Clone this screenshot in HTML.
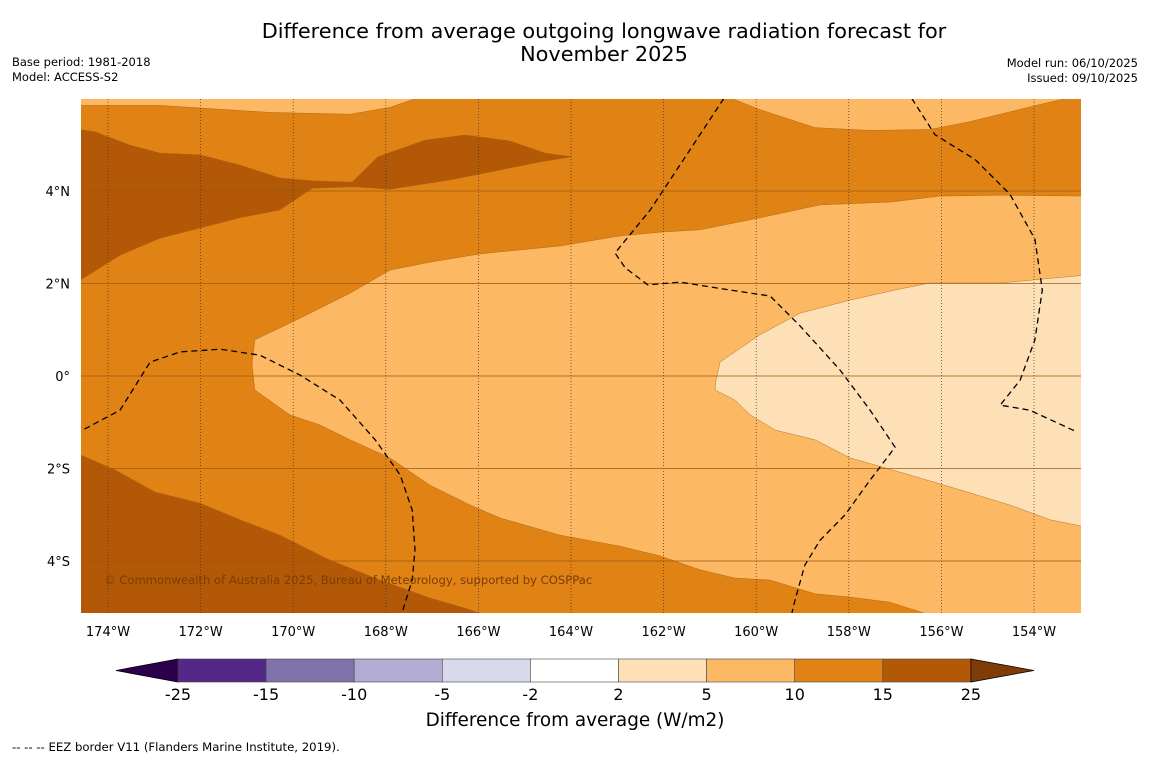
<!DOCTYPE html>
<html><head><meta charset="utf-8"><style>
body{margin:0;background:#fff;width:1150px;height:758px;overflow:hidden;font-family:"DejaVu Sans","Liberation Sans",sans-serif}
svg text{font-family:"DejaVu Sans","Liberation Sans",sans-serif}
</style></head><body>
<svg id="chart" width="1150" height="758" xmlns="http://www.w3.org/2000/svg">
<text x="604" y="38" font-size="20.8" text-anchor="middle">Difference from average outgoing longwave radiation forecast for</text>
<text x="604" y="61" font-size="20.8" text-anchor="middle">November 2025</text>
<text x="12" y="66" font-size="11.5">Base period: 1981-2018</text>
<text x="12" y="81" font-size="11.5">Model: ACCESS-S2</text>
<text x="1138" y="67" font-size="11.5" text-anchor="end">Model run: 06/10/2025</text>
<text x="1138" y="82" font-size="11.5" text-anchor="end">Issued: 09/10/2025</text>
<defs><clipPath id="mapclip"><rect x="81" y="99" width="1000" height="514"/></clipPath></defs>
<g id="map" clip-path="url(#mapclip)"></g>
<g id="axes"></g>
<g id="cbar"></g>
<text x="575" y="726" font-size="18.4" text-anchor="middle">Difference from average (W/m2)</text>
<text x="12" y="751" font-size="11.7">--  --  -- EEZ border V11 (Flanders Marine Institute, 2019).</text>
</svg>
<script>
const lonTicks=[-174,-172,-170,-168,-166,-164,-162,-160,-158,-156,-154];
const latTicks=[4,2,0,-2,-4];
const cbarLevels=[-25,-15,-10,-5,-2,2,5,10,15,25];
const cbarColors=["#542788","#8073ac","#b2abd2","#d8daeb","#ffffff","#fee0b6","#fdb863","#e08214","#b35806"];
const darkTop=[[-174.58,5.32],[-174.28,5.28],[-173.52,4.99],[-172.88,4.82],[-172.01,4.78],[-171.15,4.56],[-170.29,4.28],[-169.59,4.22],[-168.73,4.19],[-168.17,4.74],[-167.15,5.10],[-166.29,5.21],[-165.32,5.08],[-164.56,4.82],[-163.98,4.74],[-164.67,4.63],[-165.75,4.41],[-166.61,4.24],[-167.91,4.04],[-168.67,4.09],[-169.59,4.06],[-170.29,3.59],[-171.15,3.42],[-172.01,3.20],[-172.88,2.98],[-173.74,2.61],[-174.7,2.01]];
const darkBottom=[[-174.7,-1.66],[-173.85,-2.03],[-172.98,-2.51],[-172.01,-2.75],[-171.15,-3.11],[-170.29,-3.44],[-169.21,-3.98],[-168.13,-4.41],[-167.05,-4.80],[-166.29,-5.02],[-165.75,-5.2],[-174.7,-5.2]];
const lightTopLeft=[[-174.7,6.1],[-167.05,6.1],[-167.91,5.81],[-168.77,5.66],[-170.5,5.70],[-172.88,5.85],[-174.7,5.85]];
const lightTopRight=[[-160.78,6.1],[-159.92,5.76],[-158.73,5.37],[-157.54,5.31],[-156.25,5.33],[-155.38,5.50],[-153.87,5.87],[-152.9,6.1]];
const lightMain=[[-170.83,0.78],[-169.85,1.25],[-168.77,1.79],[-167.91,2.29],[-167.05,2.46],[-165.97,2.64],[-164.24,2.81],[-162.94,3.03],[-162.08,3.11],[-161.21,3.16],[-159.92,3.42],[-158.62,3.70],[-157.11,3.76],[-156.03,3.89],[-154.73,3.91],[-152.9,3.89],[-152.9,-5.2],[-156.14,-5.2],[-157.11,-4.89],[-157.97,-4.78],[-158.73,-4.71],[-159.70,-4.41],[-160.46,-4.37],[-161.21,-4.19],[-162.08,-3.89],[-162.94,-3.68],[-164.24,-3.44],[-165.53,-3.07],[-166.18,-2.79],[-167.05,-2.36],[-167.91,-1.77],[-168.77,-1.38],[-169.42,-1.06],[-170.07,-0.84],[-170.83,-0.30],[-170.89,0.24]];
const lightest=[[-160.78,0.30],[-159.92,0.89],[-159.05,1.36],[-157.97,1.64],[-157.00,1.86],[-156.25,2.01],[-154.73,2.01],[-152.9,2.18],[-152.9,-3.26],[-153.65,-3.11],[-154.52,-2.79],[-155.60,-2.46],[-156.68,-2.14],[-157.97,-1.77],[-158.73,-1.38],[-159.59,-1.17],[-160.13,-0.84],[-160.46,-0.52],[-160.89,-0.30],[-160.87,-0.09]];
const eezA=[[-174.7,-1.25],[-173.74,-0.74],[-173.09,0.30],[-172.44,0.52],[-171.58,0.58],[-170.72,0.45],[-169.85,0.02],[-168.99,-0.52],[-168.23,-1.38],[-167.69,-2.14],[-167.43,-2.90],[-167.37,-3.76],[-167.43,-4.41],[-167.63,-5.06]];
const eezB=[[-160.70,6.0],[-161.43,4.89],[-162.29,3.59],[-163.05,2.66],[-162.83,2.34],[-162.34,1.97],[-161.65,2.03],[-160.57,1.86],[-159.70,1.73],[-159.05,1.08],[-158.19,0.13],[-157.54,-0.74],[-157.00,-1.54],[-157.54,-2.25],[-158.08,-3.00],[-158.62,-3.55],[-158.95,-4.09],[-159.16,-4.84],[-159.23,-5.12]];
const eezC=[[-156.64,6.0],[-156.14,5.22],[-155.27,4.68],[-154.52,3.93],[-153.98,2.96],[-153.82,1.86],[-153.98,0.78],[-154.30,-0.09],[-154.73,-0.63],[-154.09,-0.74],[-153.07,-1.21]];

const NS="http://www.w3.org/2000/svg";
const xS=lon=>108+(lon+174)*46.3;
const yS=lat=>376-lat*46.25;
function mk(tag,attrs,parent){const e=document.createElementNS(NS,tag);for(const k in attrs)e.setAttribute(k,attrs[k]);parent.appendChild(e);return e;}
const pts=a=>a.map(p=>xS(p[0]).toFixed(1)+","+yS(p[1]).toFixed(1)).join(" ");
const map=document.getElementById("map");
let bg=mk("rect",{x:81,y:99,width:1000,height:514,fill:"#e08214"},map);


const regions=[[darkTop,"#b35806","band-15-25-north"],[darkBottom,"#b35806","band-15-25-south"],[lightTopLeft,"#fdb863","band-5-10-northwest"],[lightTopRight,"#fdb863","band-5-10-northeast"],[lightMain,"#fdb863","band-5-10-central"],[lightest,"#fee0b6","band-2-5-east"]];
regions.forEach(r=>{const p=mk("polygon",{points:pts(r[0]),fill:r[1],stroke:"#a0600f","stroke-width":0.4},map);

});
lonTicks.forEach(l=>{const g=mk("line",{x1:xS(l),x2:xS(l),y1:99,y2:613,stroke:"#333","stroke-width":0.7,"stroke-dasharray":"1,2"},map);

});
latTicks.forEach(l=>{const g=mk("line",{x1:81,x2:1081,y1:yS(l),y2:yS(l),stroke:"#9a5a10","stroke-width":0.8},map);

});
[eezA,eezB,eezC].forEach(a=>{const e=mk("polyline",{points:pts(a),fill:"none",stroke:"#000","stroke-width":1.3,"stroke-dasharray":"6,4"},map);

});
const cp=mk("text",{x:104,y:584,"font-size":11.6,fill:"#7a3d05"},map);cp.textContent="© Commonwealth of Australia 2025, Bureau of Meteorology, supported by COSPPac";


const ax=document.getElementById("axes");
lonTicks.forEach(l=>{const t=mk("text",{x:xS(l),y:636,"font-size":13,"text-anchor":"middle"},ax);t.textContent=Math.abs(l)+"°W";

});
latTicks.forEach(l=>{const t=mk("text",{x:70,y:yS(l)+5,"font-size":13,"text-anchor":"end"},ax);t.textContent=l===0?"0°":Math.abs(l)+"°"+(l>0?"N":"S");

});
const cb=document.getElementById("cbar");
const cx=i=>178+i*88.1, cy=659, ch=23;
let lt=mk("polygon",{points:`116,${cy+ch/2} ${cx(0)},${cy} ${cx(0)},${cy+ch}`,fill:"#2d004b",stroke:"#000","stroke-width":0.8},cb);


cbarColors.forEach((c,i)=>{const r=mk("rect",{x:cx(i),y:cy,width:88.1,height:ch,fill:c,stroke:"#444","stroke-width":0.6},cb);

});
let rt=mk("polygon",{points:`${cx(9)},${cy} 1034,${cy+ch/2} ${cx(9)},${cy+ch}`,fill:"#7f3b08",stroke:"#000","stroke-width":0.8},cb);


cbarLevels.forEach((v,i)=>{const t=mk("text",{x:cx(i),y:700,"font-size":16,"text-anchor":"middle"},cb);t.textContent=v;

});
</script>
</body></html>
